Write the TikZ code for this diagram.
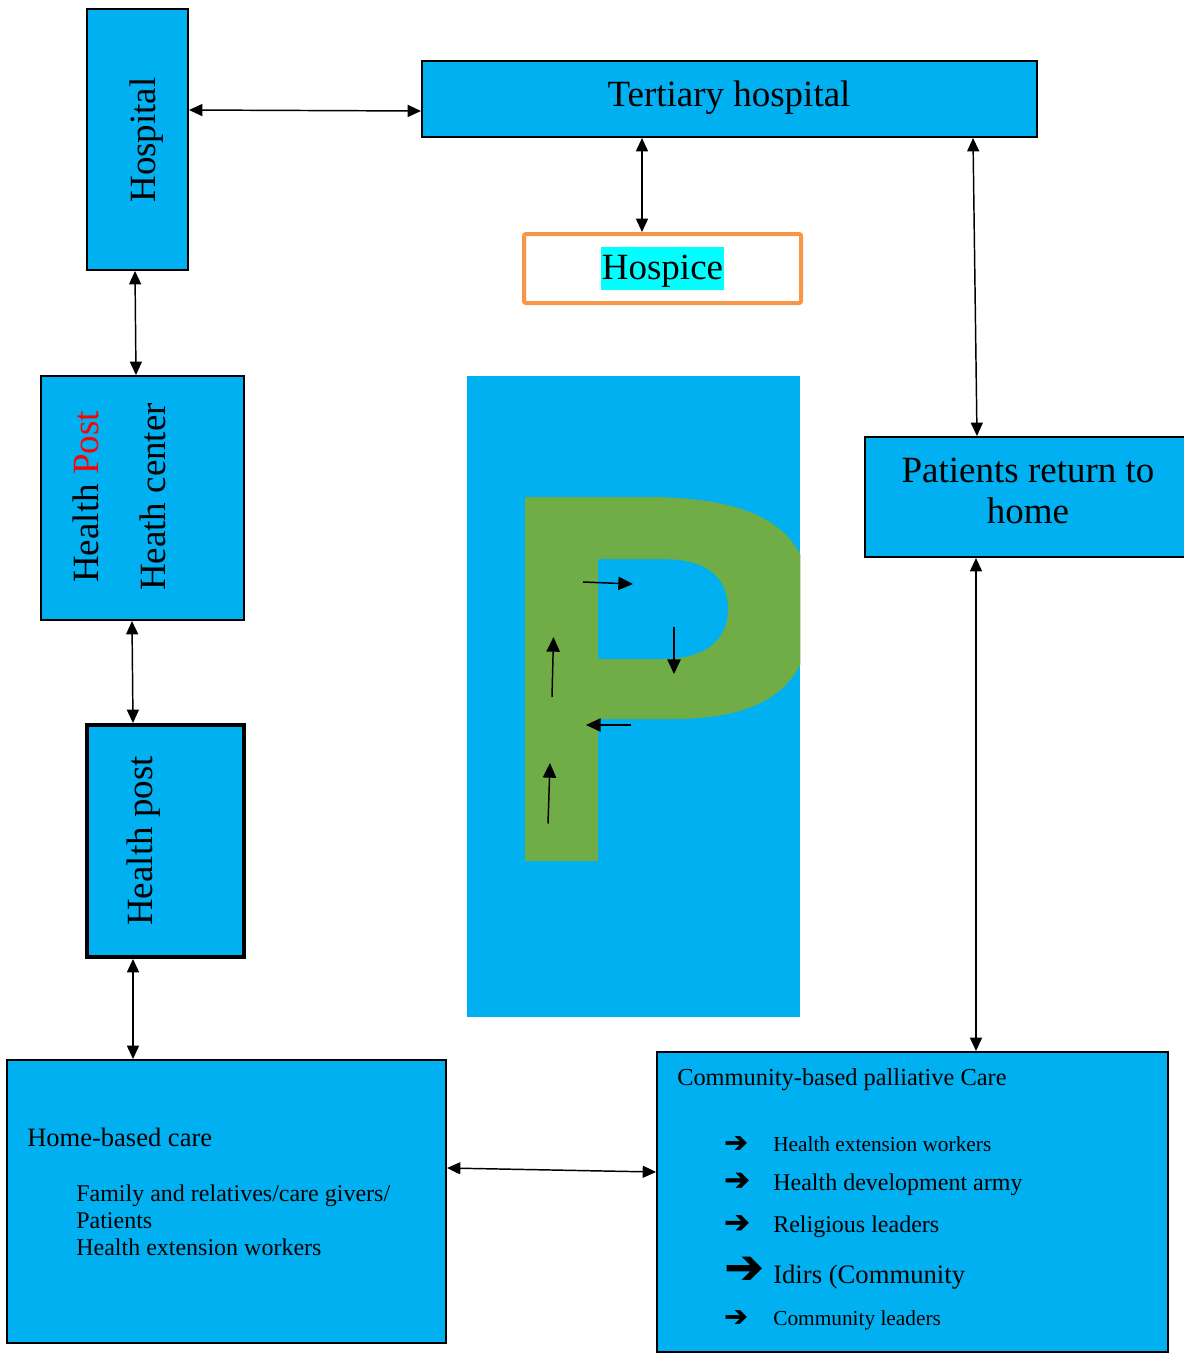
\documentclass[tikz,border=0pt]{standalone}
\usepackage{fontspec}
\setmainfont{Liberation Serif}
\newfontfamily\dejavu[BoldFont={DejaVu Sans}, BoldFeatures={FakeBold=2}]{DejaVu Sans}
\usetikzlibrary{arrows.meta,fit}
\definecolor{boxblue}{HTML}{00B0F0}
\definecolor{pgreen}{HTML}{70AD47}
\definecolor{hosorange}{HTML}{F79646}
\definecolor{hlcyan}{HTML}{00FFFF}
\begin{document}
\begin{tikzpicture}[x=0.75pt,y=-0.75pt,
  box/.style={draw=black, fill=boxblue, line width=1.5pt, inner sep=0pt},
  big/.style={font=\fontsize{27.75}{31.5}\selectfont, inner sep=0pt},
  link/.style={line width=1.1pt, {Triangle[length=10pt,width=9pt]}-{Triangle[length=10pt,width=9pt]}},
  flow/.style={line width=1.1pt, -{Triangle[length=11pt,width=10pt]}},
  txt/.style={inner sep=0pt, anchor=base west},
  bul/.style={inner sep=0pt},
]
\useasboundingbox (0,0) rectangle (1184,1353);

% boxes
\node[box, fit={(87,9)(188,270)}] (hosp) {};
\node[big, rotate=90] (hospt) at (147,140) {Hospital};

\node[box, fit={(422,61)(1037,137)}] (tert) {};
\node[big, anchor=base] (tertt) at (729,106) {Tertiary hospital};

\node[draw=hosorange, line width=3pt, fill=white, rounded corners=1.5pt, inner sep=0pt, fit={(524,234)(801,303)}] (hospice) {};
\node[big, fill=hlcyan, inner xsep=1pt, inner ysep=0.5pt, text height=24pt, text depth=7pt] (hospicet) at (662.5,268.5) {Hospice};

\node[box, fit={(41,376)(244,620)}] (hc) {};
\node[big, rotate=90] (hct1) at (86,497) {Health \textcolor{red}{Post}};
\node[big, rotate=90] (hct2) at (153,497) {Heath center};

\node[box, line width=3pt, fit={(87,725)(244,957)}] (hp) {};
\node[big, rotate=90] (hpt) at (144,841) {Health post};

\node[box, fit={(865,437)(1192,557)}] (pat) {};
\node[big, anchor=base] (patt1) at (1028,482) {Patients return to};
\node[big, anchor=base] (patt2) at (1028,523) {home};

\node[box, fit={(7,1060)(446,1343)}] (home) {};
\node[txt, font=\fontsize{19.9}{24}\selectfont] (homet) at (27,1146) {Home-based care};
\node[txt, font=\fontsize{18}{20}\selectfont] (homel1) at (76,1201) {Family and relatives/care givers/};
\node[txt, font=\fontsize{18}{20}\selectfont] (homel2) at (76,1228) {Patients};
\node[txt, font=\fontsize{18}{20}\selectfont] (homel3) at (76,1255) {Health extension workers};

\node[box, fit={(657,1052)(1168,1352)}] (comm) {};
\node[txt, font=\fontsize{18.3}{22}\selectfont] (commt) at (677,1085) {Community-based palliative Care};
\node[txt, font=\fontsize{16}{19}\selectfont] (c1) at (773,1151) {Health extension workers};
\node[txt, font=\fontsize{18}{21}\selectfont] (c2) at (773,1190) {Health development army};
\node[txt, font=\fontsize{18}{21}\selectfont] (c3) at (773,1232) {Religious leaders};
\node[txt, font=\fontsize{20}{23}\selectfont] (c4) at (773,1283) {Idirs (Community};
\node[txt, font=\fontsize{16}{19}\selectfont] (c5) at (773,1325) {Community leaders};
\node[bul, font=\dejavu\bfseries\fontsize{21}{24}\selectfont] (b1) at (736,1144) {➔};
\node[bul, font=\dejavu\bfseries\fontsize{23}{26}\selectfont] (b2) at (737,1181.5) {➔};
\node[bul, font=\dejavu\bfseries\fontsize{23}{26}\selectfont] (b3) at (737,1224) {➔};
\node[bul, font=\dejavu\bfseries\fontsize{35}{38}\selectfont] (b4) at (744,1270) {➔};
\node[bul, font=\dejavu\bfseries\fontsize{21}{24}\selectfont] (b5) at (736,1318) {➔};

% P panel
\node[fill=boxblue, inner sep=0pt, fit={(467,376)(800,1017)}] (panel) {};
\begin{scope}
\clip (panel.north west) rectangle (panel.south east);
\fill[pgreen, even odd rule]
  (525,497) -- (646,497) .. controls (760,497) and (812,530) .. (812,608)
  .. controls (812,690) and (760,719) .. (673,719) -- (598,719) -- (598,861) -- (525,861) -- cycle
  (598,559) -- (662,559) .. controls (708,559) and (728,578) .. (728,609)
  .. controls (728,640) and (706,659) .. (662,659) -- (598,659) -- cycle;
\end{scope}
\coordinate (p1s) at (583,582); \coordinate (p1e) at (633,584);
\coordinate (p2s) at (674,627); \coordinate (p2e) at (674,674);
\coordinate (p3s) at (631,725); \coordinate (p3e) at (586,725);
\coordinate (p4s) at (552,697); \coordinate (p4e) at (553.5,637);
\coordinate (p5s) at (548,823.5); \coordinate (p5e) at (550,763);
\draw[flow] (p1s) -- (p1e);
\draw[flow] (p2s) -- (p2e);
\draw[flow] (p3s) -- (p3e);
\draw[flow] (p4s) -- (p4e);
\draw[flow] (p5s) -- (p5e);

% connectors
\draw[link] (hosp.east |- 0,110) -- (tert.west |- 0,111);
\draw[link] (tert.south -| 642,0) -- (hospice.north -| 642,0);
\draw[link] (tert.south -| 973,0) -- (pat.north -| 977,0);
\draw[link] (hosp.south -| 135,0) -- (hc.north -| 136,0);
\draw[link] (hc.south -| 132,0) -- (hp.north -| 133,0);
\draw[link] (hp.south -| 133,0) -- (home.north -| 133,0);
\draw[link] (home.east |- 0,1168) -- (comm.west |- 0,1172);
\draw[link] (pat.south -| 976,0) -- (comm.north -| 976,0);
\end{tikzpicture}
\end{document}
